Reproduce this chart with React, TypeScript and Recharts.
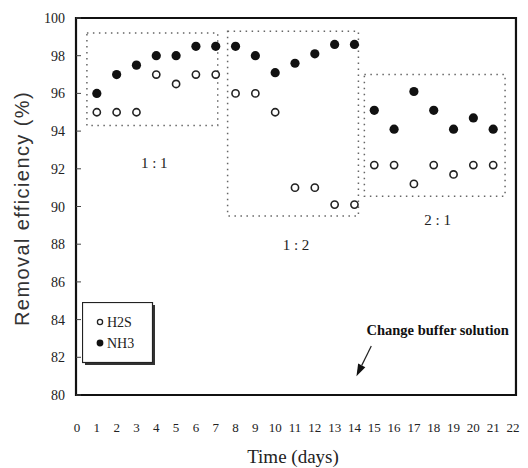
import React from 'react';
import {
  ScatterChart, Scatter, XAxis, YAxis, ReferenceArea, ReferenceDot, ReferenceLine, Legend, Label,
} from 'recharts';

const days = [1, 2, 3, 4, 5, 6, 7, 8, 9, 10, 11, 12, 13, 14, 15, 16, 17, 18, 19, 20, 21];
const h2s = [95, 95, 95, 97, 96.5, 97, 97, 96, 96, 95, 91, 91, 90.1, 90.1, 92.2, 92.2, 91.2, 92.2, 91.7, 92.2, 92.2];
const nh3 = [96, 97, 97.5, 98, 98, 98.5, 98.5, 98.5, 98, 97.1, 97.6, 98.1, 98.6, 98.6, 95.1, 94.1, 96.1, 95.1, 94.1, 94.7, 94.1];
const xTicks = [0, 1, 2, 3, 4, 5, 6, 7, 8, 9, 10, 11, 12, 13, 14, 15, 16, 17, 18, 19, 20, 21, 22];
const yTicks = [80, 82, 84, 86, 88, 90, 92, 94, 96, 98, 100];

// dotted group boxes
const boxNames = ['1 : 1', '1 : 2', '2 : 1'];
const boxX1 = [0.5, 7.6, 14.5];
const boxX2 = [7.1, 14.2, 21.6];
const boxY1 = [94.3, 89.5, 90.55];
const boxY2 = [99.2, 99.3, 97.0];
const boxLabelX = [3.9, 11.05, 18.2];
const boxLabelY = [92.3, 88.0, 89.3];

const noteText = 'Change buffer solution';
const noteX = 18.2;
const noteY = 83.45;
const arrowFrom = { x: 14.85, y: 82.6 };
const arrowTo = { x: 14.1, y: 81.0 };

const yTitle = 'Removal efficiency (%)';
const xTitle = 'Time (days)';

const h2sData = days.map((d, i) => ({ day: d, value: h2s[i] }));
const nh3Data = days.map((d, i) => ({ day: d, value: nh3[i] }));

const OpenDot = (p: any) => (
  <circle cx={p.cx} cy={p.cy} r={3.6} fill="#fff" stroke="#222" strokeWidth={1.6} />
);
const FilledDot = (p: any) => <circle cx={p.cx} cy={p.cy} r={4.6} fill="#111" stroke="none" />;

const YTick = (p: any) => (
  <g>
    <line x1={p.x + 11} x2={p.x + 16} y1={p.y} y2={p.y} stroke="#444" strokeWidth={1} />
    <text x={p.x} y={p.y} dy={5} textAnchor="end" fontFamily="Liberation Serif" fontSize={14} fill="#222">
      {p.payload.value}
    </text>
  </g>
);

const XTick = (p: any) => (
  <text x={p.x} y={p.y} dy={11} textAnchor="middle" fontFamily="Liberation Serif" fontSize={13} fill="#222">
    {p.payload.value}
  </text>
);

const YTitle = (p: any) => {
  const vb = p.viewBox || { x: 0, y: 18, width: 76, height: 377 };
  const cx = vb.x + 22;
  const cy = vb.y + vb.height / 2 + 2;
  return (
    <text x={cx} y={cy} transform={`rotate(-90, ${cx}, ${cy})`} textAnchor="middle" dominantBaseline="central"
      fontFamily="Liberation Sans" fontSize={20} letterSpacing={1.4} fill="#333">
      {yTitle}
    </text>
  );
};

const ArrowShape = (p: any) => {
  const { x1, y1, x2, y2 } = p;
  const ang = Math.atan2(y2 - y1, x2 - x1);
  const len = 12;
  const w = 4;
  const bx = x2 - len * Math.cos(ang);
  const by = y2 - len * Math.sin(ang);
  const px = -Math.sin(ang) * w;
  const py = Math.cos(ang) * w;
  return (
    <g>
      <line x1={x1} y1={y1} x2={bx} y2={by} stroke="#222" strokeWidth={1.2} />
      <polygon points={`${x2},${y2} ${bx + px},${by + py} ${bx - px},${by - py}`} fill="#111" />
    </g>
  );
};

const LegendBox = () => (
  <svg width={76} height={66} style={{ display: 'block' }}>
    <rect x={3} y={3} width={70} height={60} fill="#333" />
    <rect x={0.5} y={0.5} width={70} height={60} fill="#fff" stroke="#222" strokeWidth={1.2} />
    <circle cx={18} cy={20} r={2.6} fill="#fff" stroke="#222" strokeWidth={1.3} />
    <text x={25} y={25} fontFamily="Liberation Serif" fontSize={14} fill="#222">H2S</text>
    <circle cx={18} cy={41} r={3.4} fill="#111" />
    <text x={25} y={46} fontFamily="Liberation Serif" fontSize={14} fill="#222">NH3</text>
  </svg>
);

export default function App() {
  return (
    <div style={{ position: 'absolute', left: 0, top: 0, width: 528, height: 468, background: '#fff' }}>
      <ScatterChart width={528} height={468} margin={{ top: 18, right: 12, bottom: 0, left: 0 }}>
        <XAxis
          type="number"
          dataKey="day"
          domain={[0, 22]}
          ticks={xTicks}
          interval={0}
          padding={{ left: 1, right: 3 }}
          axisLine={false}
          tickLine={false}
          tickSize={0}
          tickMargin={26}
          tick={<XTick />}
          height={73}
        >
          <Label value={xTitle} position="insideBottom" offset={5} dx={-3}
            style={{ fontFamily: 'Liberation Serif', fontSize: 19, fill: '#222' }} />
        </XAxis>
        <YAxis
          type="number"
          dataKey="value"
          domain={[80, 100]}
          ticks={yTicks}
          interval={0}
          axisLine={false}
          tickLine={false}
          tickSize={0}
          tickMargin={11}
          tick={<YTick />}
          width={76}
        >
          <Label content={<YTitle />} />
        </YAxis>
        <ReferenceArea x1={-0.05} x2={22.15} y1={80} y2={100} ifOverflow="visible"
          fill="none" stroke="#111" strokeWidth={2.2} />
        {boxNames.map((n, i) => (
          <ReferenceArea key={n} x1={boxX1[i]} x2={boxX2[i]} y1={boxY1[i]} y2={boxY2[i]} ifOverflow="visible"
            fill="none" stroke="#666" strokeWidth={1.5} strokeDasharray="1.5 4.5" />
        ))}
        {boxNames.map((n, i) => (
          <ReferenceDot key={'l' + n} x={boxLabelX[i]} y={boxLabelY[i]} r={0} stroke="none" fill="none" ifOverflow="visible"
            label={{ value: n, position: 'center', style: { fontFamily: 'Liberation Serif', fontSize: 15, fill: '#222' } }} />
        ))}
        <ReferenceDot x={noteX} y={noteY} r={0} stroke="none" fill="none" ifOverflow="visible"
          label={{ value: noteText, position: 'center', style: { fontFamily: 'Liberation Serif', fontSize: 14.5, fontWeight: 'bold', fill: '#111' } }} />
        <ReferenceLine segment={[arrowFrom, arrowTo]} ifOverflow="visible" shape={<ArrowShape />} />
        <Scatter name="H2S" data={h2sData} shape={<OpenDot />} isAnimationActive={false} />
        <Scatter name="NH3" data={nh3Data} shape={<FilledDot />} isAnimationActive={false} />
        <Legend layout="vertical" align="center" verticalAlign="middle" content={<LegendBox />}
          wrapperStyle={{ position: 'absolute', left: 82, top: 302, width: 76, height: 66 }} />
      </ScatterChart>
    </div>
  );
}
